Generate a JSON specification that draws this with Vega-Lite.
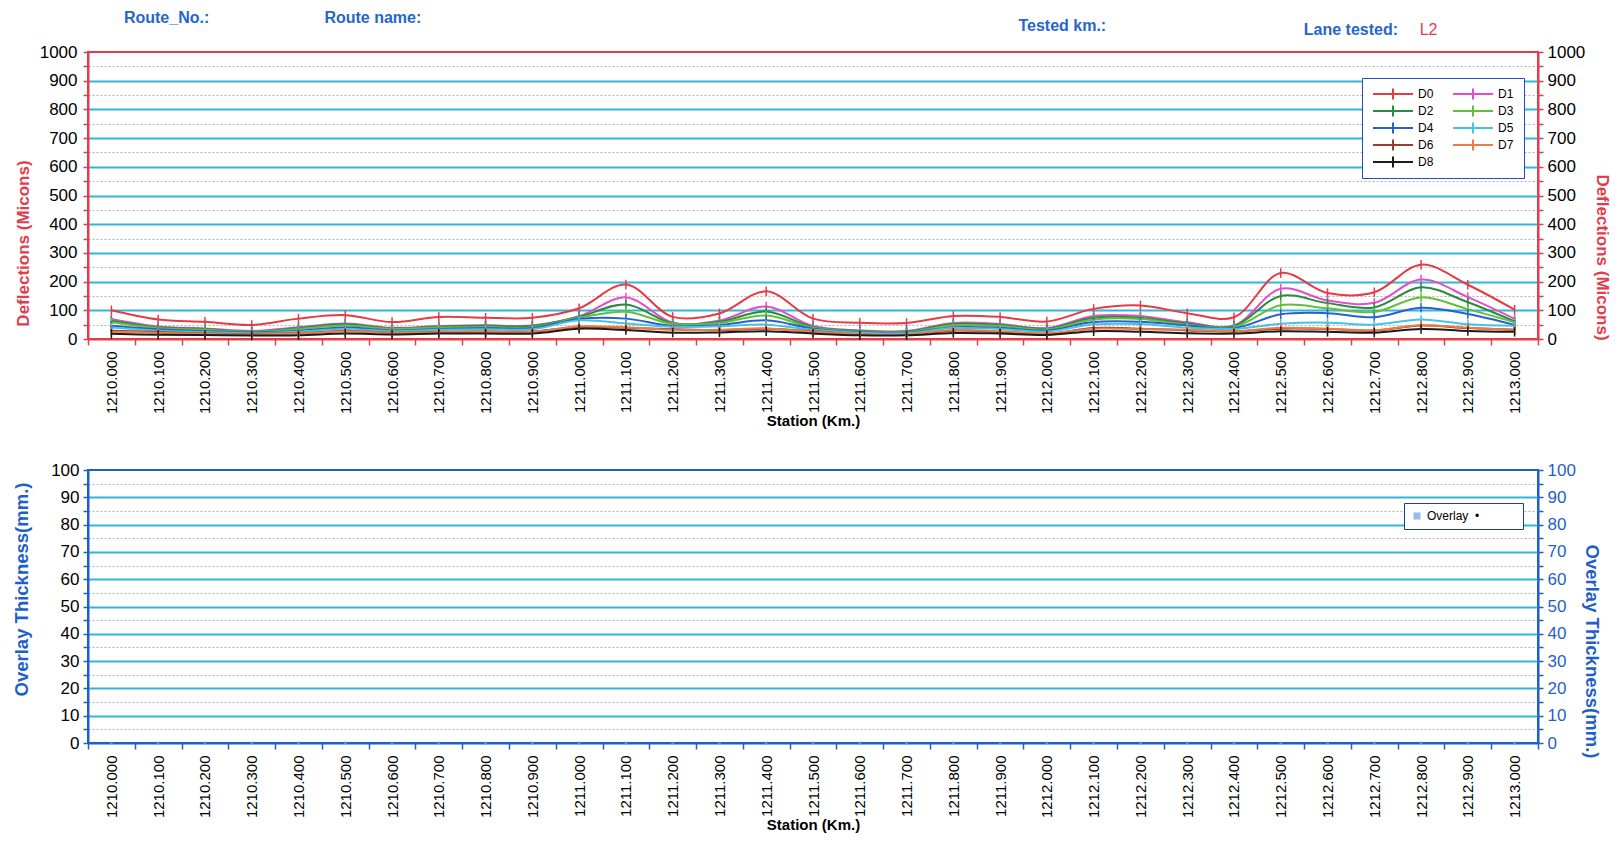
{
  "$schema": "https://vega.github.io/schema/vega-lite/v6.json",
  "padding": {"left": 10, "top": 8, "right": 3, "bottom": 3},
  "background": "white",
  "spacing": 30,
  "resolve": {"scale": {"color": "independent"}, "legend": {"color": "independent"}},
  "config": {
    "font": "Liberation Sans",
    "axis": {"labelFont": "Liberation Sans", "titleFont": "Liberation Sans"},
    "legend": {"labelFont": "Liberation Sans"}
  },
  "datasets": {
    "defl": [
      {"station": "1210.000", "D0": 100, "D1": 70, "D2": 64, "D3": 58, "D4": 46, "D5": 40, "D6": 29, "D7": 25, "D8": 18},
      {"station": "1210.100", "D0": 68, "D1": 44, "D2": 41, "D3": 38, "D4": 34, "D5": 29, "D6": 24, "D7": 22, "D8": 15},
      {"station": "1210.200", "D0": 60, "D1": 37, "D2": 35, "D3": 32, "D4": 27, "D5": 24, "D6": 19, "D7": 18, "D8": 14},
      {"station": "1210.300", "D0": 49, "D1": 28, "D2": 26, "D3": 25, "D4": 23, "D5": 20, "D6": 17, "D7": 16, "D8": 12},
      {"station": "1210.400", "D0": 71, "D1": 41, "D2": 38, "D3": 35, "D4": 29, "D5": 26, "D6": 20, "D7": 19, "D8": 13},
      {"station": "1210.500", "D0": 83, "D1": 54, "D2": 51, "D3": 47, "D4": 40, "D5": 35, "D6": 28, "D7": 27, "D8": 19},
      {"station": "1210.600", "D0": 59, "D1": 39, "D2": 37, "D3": 35, "D4": 30, "D5": 27, "D6": 22, "D7": 21, "D8": 16},
      {"station": "1210.700", "D0": 77, "D1": 45, "D2": 43, "D3": 40, "D4": 35, "D5": 32, "D6": 25, "D7": 24, "D8": 19},
      {"station": "1210.800", "D0": 74, "D1": 48, "D2": 46, "D3": 42, "D4": 38, "D5": 34, "D6": 26, "D7": 25, "D8": 19},
      {"station": "1210.900", "D0": 74, "D1": 47, "D2": 45, "D3": 41, "D4": 38, "D5": 34, "D6": 26, "D7": 25, "D8": 19},
      {"station": "1211.000", "D0": 107, "D1": 79, "D2": 77, "D3": 74, "D4": 70, "D5": 65, "D6": 42, "D7": 44, "D8": 36},
      {"station": "1211.100", "D0": 190, "D1": 145, "D2": 120, "D3": 95, "D4": 71, "D5": 54, "D6": 39, "D7": 41, "D8": 31},
      {"station": "1211.200", "D0": 77, "D1": 57, "D2": 55, "D3": 52, "D4": 45, "D5": 42, "D6": 34, "D7": 32, "D8": 22},
      {"station": "1211.300", "D0": 89, "D1": 64, "D2": 60, "D3": 56, "D4": 49, "D5": 44, "D6": 31, "D7": 32, "D8": 23},
      {"station": "1211.400", "D0": 166, "D1": 113, "D2": 96, "D3": 82, "D4": 65, "D5": 50, "D6": 36, "D7": 37, "D8": 27},
      {"station": "1211.500", "D0": 71, "D1": 45, "D2": 42, "D3": 39, "D4": 36, "D5": 32, "D6": 27, "D7": 25, "D8": 19},
      {"station": "1211.600", "D0": 57, "D1": 30, "D2": 28, "D3": 26, "D4": 24, "D5": 22, "D6": 16, "D7": 17, "D8": 13},
      {"station": "1211.700", "D0": 56, "D1": 28, "D2": 26, "D3": 24, "D4": 22, "D5": 20, "D6": 15, "D7": 16, "D8": 13},
      {"station": "1211.800", "D0": 80, "D1": 56, "D2": 52, "D3": 48, "D4": 41, "D5": 38, "D6": 29, "D7": 31, "D8": 21},
      {"station": "1211.900", "D0": 77, "D1": 52, "D2": 49, "D3": 45, "D4": 39, "D5": 35, "D6": 25, "D7": 27, "D8": 19},
      {"station": "1212.000", "D0": 61, "D1": 38, "D2": 36, "D3": 33, "D4": 30, "D5": 26, "D6": 18, "D7": 20, "D8": 14},
      {"station": "1212.100", "D0": 105, "D1": 80, "D2": 74, "D3": 68, "D4": 59, "D5": 51, "D6": 38, "D7": 36, "D8": 27},
      {"station": "1212.200", "D0": 117, "D1": 80, "D2": 74, "D3": 70, "D4": 60, "D5": 52, "D6": 36, "D7": 34, "D8": 25},
      {"station": "1212.300", "D0": 90, "D1": 58, "D2": 54, "D3": 50, "D4": 47, "D5": 40, "D6": 30, "D7": 32, "D8": 20},
      {"station": "1212.400", "D0": 76, "D1": 47, "D2": 45, "D3": 42, "D4": 38, "D5": 35, "D6": 26, "D7": 27, "D8": 19},
      {"station": "1212.500", "D0": 230, "D1": 175, "D2": 150, "D3": 118, "D4": 86, "D5": 53, "D6": 36, "D7": 39, "D8": 27},
      {"station": "1212.600", "D0": 160, "D1": 134, "D2": 125, "D3": 107, "D4": 90, "D5": 57, "D6": 35, "D7": 36, "D8": 25},
      {"station": "1212.700", "D0": 163, "D1": 126, "D2": 110, "D3": 94, "D4": 76, "D5": 50, "D6": 29, "D7": 31, "D8": 22},
      {"station": "1212.800", "D0": 259, "D1": 207, "D2": 180, "D3": 145, "D4": 109, "D5": 68, "D6": 47, "D7": 48, "D8": 35},
      {"station": "1212.900", "D0": 189, "D1": 146, "D2": 128, "D3": 104, "D4": 87, "D5": 51, "D6": 38, "D7": 39, "D8": 28},
      {"station": "1213.000", "D0": 102, "D1": 70, "D2": 61, "D3": 58, "D4": 49, "D5": 46, "D6": 32, "D7": 32, "D8": 25}
    ],
    "overlay": [
      {"station": "1210.000", "series": "Overlay", "thickness": 0},
      {"station": "1210.100", "series": "Overlay", "thickness": 0},
      {"station": "1210.200", "series": "Overlay", "thickness": 0},
      {"station": "1210.300", "series": "Overlay", "thickness": 0},
      {"station": "1210.400", "series": "Overlay", "thickness": 0},
      {"station": "1210.500", "series": "Overlay", "thickness": 0},
      {"station": "1210.600", "series": "Overlay", "thickness": 0},
      {"station": "1210.700", "series": "Overlay", "thickness": 0},
      {"station": "1210.800", "series": "Overlay", "thickness": 0},
      {"station": "1210.900", "series": "Overlay", "thickness": 0},
      {"station": "1211.000", "series": "Overlay", "thickness": 0},
      {"station": "1211.100", "series": "Overlay", "thickness": 0},
      {"station": "1211.200", "series": "Overlay", "thickness": 0},
      {"station": "1211.300", "series": "Overlay", "thickness": 0},
      {"station": "1211.400", "series": "Overlay", "thickness": 0},
      {"station": "1211.500", "series": "Overlay", "thickness": 0},
      {"station": "1211.600", "series": "Overlay", "thickness": 0},
      {"station": "1211.700", "series": "Overlay", "thickness": 0},
      {"station": "1211.800", "series": "Overlay", "thickness": 0},
      {"station": "1211.900", "series": "Overlay", "thickness": 0},
      {"station": "1212.000", "series": "Overlay", "thickness": 0},
      {"station": "1212.100", "series": "Overlay", "thickness": 0},
      {"station": "1212.200", "series": "Overlay", "thickness": 0},
      {"station": "1212.300", "series": "Overlay", "thickness": 0},
      {"station": "1212.400", "series": "Overlay", "thickness": 0},
      {"station": "1212.500", "series": "Overlay", "thickness": 0},
      {"station": "1212.600", "series": "Overlay", "thickness": 0},
      {"station": "1212.700", "series": "Overlay", "thickness": 0},
      {"station": "1212.800", "series": "Overlay", "thickness": 0},
      {"station": "1212.900", "series": "Overlay", "thickness": 0},
      {"station": "1213.000", "series": "Overlay", "thickness": 0}
    ]
  },
  "vconcat": [
    {
      "width": 1450,
      "height": 287,
      "view": {"stroke": "#e23d4d", "strokeWidth": 2},
      "layer": [
        {
          "data": {"name": "defl"},
          "transform": [{"fold": ["D0", "D1", "D2", "D3", "D4", "D5", "D6", "D7", "D8"], "as": ["series", "value"]}],
          "mark": {
            "type": "line",
            "interpolate": "catmull-rom",
            "strokeWidth": 2,
            "point": {"shape": "M0,-1L0,1", "filled": false, "size": 90, "strokeWidth": 1.5}
          },
          "encoding": {
            "x": {
              "field": "station",
              "type": "ordinal",
              "bandPosition": 0.5,
              "scale": {"type": "band", "paddingInner": 0, "paddingOuter": 0},
              "axis": {
                "title": "Station (Km.)",
                "titleFontSize": 15,
                "titleFontWeight": "bold",
                "titleColor": "black",
                "titlePadding": 0,
                "labelAngle": -90,
                "labelFontSize": 15,
                "labelColor": "black",
                "labelPadding": 6,
                "domainColor": "#e23d4d",
                "domainWidth": 2,
                "tickColor": "#e23d4d",
                "tickWidth": 1.5,
                "tickSize": 6,
                "tickBand": "extent",
                "grid": false
              }
            },
            "y": {
              "field": "value",
              "type": "quantitative",
              "scale": {"domain": [0, 1000], "nice": false},
              "axis": {
                "values": [0, 50, 100, 150, 200, 250, 300, 350, 400, 450, 500, 550, 600, 650, 700, 750, 800, 850, 900, 950, 1000],
                "format": "d",
                "labelExpr": "datum.value % 100 === 0 ? datum.label : ''",
                "title": "Deflections (Micons)",
                "titleColor": "#e23d4d",
                "titleFontSize": 17,
                "titleFontWeight": "bold",
                "titleX": -56,
                "titleY": 191,
                "labelFontSize": 17,
                "labelColor": "black",
                "labelPadding": 6,
                "domainColor": "#e23d4d",
                "domainWidth": 2,
                "tickColor": "#e23d4d",
                "tickWidth": 1.5,
                "tickSize": 5,
                "grid": true,
                "gridColor": {"condition": {"test": "datum.value % 100 === 0", "value": "#32b6d6"}, "value": "#a0a0a0"},
                "gridDash": {"condition": {"test": "datum.value % 100 === 0", "value": []}, "value": [2, 2]},
                "gridWidth": {"condition": {"test": "datum.value % 100 === 0", "value": 1.8}, "value": 0.8},
                "gridOpacity": {"condition": {"test": "datum.value === 0 || datum.value === 1000", "value": 0}, "value": 1}
              }
            },
            "color": {
              "field": "series",
              "type": "nominal",
              "scale": {
                "domain": ["D0", "D1", "D2", "D3", "D4", "D5", "D6", "D7", "D8"],
                "range": ["#e63b46", "#e34fc8", "#2a8a3e", "#62c034", "#2a5fd0", "#44c4e4", "#9b3a2e", "#f07a45", "#1b1b1b"]
              },
              "legend": {
                "title": null,
                "orient": "none",
                "direction": "horizontal",
                "legendX": 1274,
                "legendY": 26,
                "columns": 2,
                "columnPadding": 18,
                "rowPadding": 5,
                "clipHeight": 12,
                "symbolType": "M-1,0L7,0M3,-1.1L3,1.1",
                "symbolSize": 100,
                "symbolStrokeWidth": 2,
                "labelOffset": 34,
                "labelFontSize": 12,
                "labelColor": "black",
                "padding": 10,
                "strokeColor": "#1f4fbf",
                "fillColor": "white"
              }
            }
          }
        },
        {
          "data": {"values": [{"v": 0}, {"v": 1000}]},
          "mark": {"type": "point", "opacity": 0},
          "encoding": {
            "y": {
              "field": "v",
              "type": "quantitative",
              "scale": {"domain": [0, 1000], "nice": false},
              "axis": {
                "orient": "right",
                "values": [0, 50, 100, 150, 200, 250, 300, 350, 400, 450, 500, 550, 600, 650, 700, 750, 800, 850, 900, 950, 1000],
                "format": "d",
                "labelExpr": "datum.value % 100 === 0 ? datum.label : ''",
                "title": "Deflections (Micons)",
                "titleAngle": 90,
                "titleColor": "#e23d4d",
                "titleFontSize": 17,
                "titleFontWeight": "bold",
                "titlePadding": 8,
                "titleY": 205,
                "labelFontSize": 17,
                "labelColor": "black",
                "labelPadding": 4,
                "domainColor": "#e23d4d",
                "domainWidth": 2,
                "tickColor": "#e23d4d",
                "tickWidth": 1.5,
                "tickSize": 5,
                "grid": false
              }
            }
          }
        },
        {
          "data": {"values": [{}]},
          "mark": {"type": "text", "text": "Route_No.:", "color": "#2566c9", "fontWeight": "bold", "fontSize": 16, "align": "center", "baseline": "middle"},
          "encoding": {"x": {"datum": "1210.100", "type": "ordinal", "bandPosition": 0.68}, "y": {"datum": 1120, "type": "quantitative", "scale": {"domain": [0, 1000], "nice": false}, "axis": null}}
        },
        {
          "data": {"values": [{}]},
          "mark": {"type": "text", "text": "Route name:", "color": "#2566c9", "fontWeight": "bold", "fontSize": 16, "align": "center", "baseline": "middle"},
          "encoding": {"x": {"datum": "1210.600", "type": "ordinal", "bandPosition": 0.09}, "y": {"datum": 1120, "type": "quantitative", "scale": {"domain": [0, 1000], "nice": false}, "axis": null}}
        },
        {
          "data": {"values": [{}]},
          "mark": {"type": "text", "text": "Tested km.:", "color": "#2566c9", "fontWeight": "bold", "fontSize": 16, "align": "center", "baseline": "middle"},
          "encoding": {"x": {"datum": "1212.000", "type": "ordinal", "bandPosition": 0.83}, "y": {"datum": 1091, "type": "quantitative", "scale": {"domain": [0, 1000], "nice": false}, "axis": null}}
        },
        {
          "data": {"values": [{}]},
          "mark": {"type": "text", "text": "Lane tested:", "color": "#2566c9", "fontWeight": "bold", "fontSize": 16, "align": "center", "baseline": "middle"},
          "encoding": {"x": {"datum": "1212.700", "type": "ordinal", "bandPosition": 0.0}, "y": {"datum": 1077, "type": "quantitative", "scale": {"domain": [0, 1000], "nice": false}, "axis": null}}
        },
        {
          "data": {"values": [{}]},
          "mark": {"type": "text", "text": "L2", "color": "#e23d4d", "fontSize": 16, "align": "center", "baseline": "middle"},
          "encoding": {"x": {"datum": "1212.800", "type": "ordinal", "bandPosition": 0.66}, "y": {"datum": 1077, "type": "quantitative", "scale": {"domain": [0, 1000], "nice": false}, "axis": null}}
        }
      ],
      "resolve": {"scale": {"y": "independent"}}
    },
    {
      "width": 1450,
      "height": 273,
      "view": {"stroke": "#1f5fc8", "strokeWidth": 2},
      "layer": [
        {
          "data": {"name": "overlay"},
          "mark": {"type": "point", "filled": true, "size": 8, "shape": "square"},
          "encoding": {
            "x": {
              "field": "station",
              "type": "ordinal",
              "bandPosition": 0.5,
              "scale": {"type": "band", "paddingInner": 0, "paddingOuter": 0},
              "axis": {
                "title": "Station (Km.)",
                "titleFontSize": 15,
                "titleFontWeight": "bold",
                "titleColor": "black",
                "titlePadding": 0,
                "labelAngle": -90,
                "labelFontSize": 15,
                "labelColor": "black",
                "labelPadding": 6,
                "domainColor": "#1f5fc8",
                "domainWidth": 2,
                "tickColor": "#1f5fc8",
                "tickWidth": 1.5,
                "tickSize": 6,
                "tickBand": "extent",
                "grid": false
              }
            },
            "y": {
              "field": "thickness",
              "type": "quantitative",
              "scale": {"domain": [0, 100], "nice": false},
              "axis": {
                "values": [0, 5, 10, 15, 20, 25, 30, 35, 40, 45, 50, 55, 60, 65, 70, 75, 80, 85, 90, 95, 100],
                "format": "d",
                "labelExpr": "datum.value % 10 === 0 ? datum.label : ''",
                "title": "Overlay Thickness(mm.)",
                "titleColor": "#1f5fc8",
                "titleFontSize": 18.5,
                "titleFontWeight": "bold",
                "titleX": -57,
                "titleY": 119,
                "labelFontSize": 17,
                "labelColor": "black",
                "labelPadding": 4,
                "domainColor": "#1f5fc8",
                "domainWidth": 2,
                "tickColor": "#1f5fc8",
                "tickWidth": 1.5,
                "tickSize": 5,
                "grid": true,
                "gridColor": {"condition": {"test": "datum.value % 10 === 0", "value": "#32b6d6"}, "value": "#a0a0a0"},
                "gridDash": {"condition": {"test": "datum.value % 10 === 0", "value": []}, "value": [2, 2]},
                "gridWidth": {"condition": {"test": "datum.value % 10 === 0", "value": 1.8}, "value": 0.8},
                "gridOpacity": {"condition": {"test": "datum.value === 0 || datum.value === 100", "value": 0}, "value": 1}
              }
            },
            "color": {
              "field": "series",
              "type": "nominal",
              "scale": {"domain": ["Overlay"], "range": ["#6a9fe0"]},
              "legend": {
                "title": null,
                "orient": "none",
                "legendX": 1316,
                "legendY": 33,
                "symbolType": "square",
                "symbolSize": 50,
                "labelFontSize": 12,
                "labelColor": "black",
                "labelExpr": "datum.label + '\u00a0\u00a0\u2022\u00a0\u00a0\u00a0\u00a0\u00a0\u00a0\u00a0\u00a0\u00a0\u00a0\u00a0\u200b'",
                "padding": 7,
                "strokeColor": "#1a3fa0",
                "fillColor": "white"
              }
            }
          }
        },
        {
          "data": {"values": [{"v": 0}, {"v": 100}]},
          "mark": {"type": "point", "opacity": 0},
          "encoding": {
            "y": {
              "field": "v",
              "type": "quantitative",
              "scale": {"domain": [0, 100], "nice": false},
              "axis": {
                "orient": "right",
                "values": [0, 5, 10, 15, 20, 25, 30, 35, 40, 45, 50, 55, 60, 65, 70, 75, 80, 85, 90, 95, 100],
                "format": "d",
                "labelExpr": "datum.value % 10 === 0 ? datum.label : ''",
                "title": "Overlay Thickness(mm.)",
                "titleAngle": 90,
                "titleColor": "#1f5fc8",
                "titleFontSize": 18.5,
                "titleFontWeight": "bold",
                "titlePadding": 6,
                "titleY": 181,
                "labelFontSize": 17,
                "labelColor": "#1f5fc8",
                "labelPadding": 4,
                "domainColor": "#1f5fc8",
                "domainWidth": 2,
                "tickColor": "#1f5fc8",
                "tickWidth": 1.5,
                "tickSize": 5,
                "grid": false
              }
            }
          }
        }
      ],
      "resolve": {"scale": {"y": "independent"}}
    }
  ]
}
